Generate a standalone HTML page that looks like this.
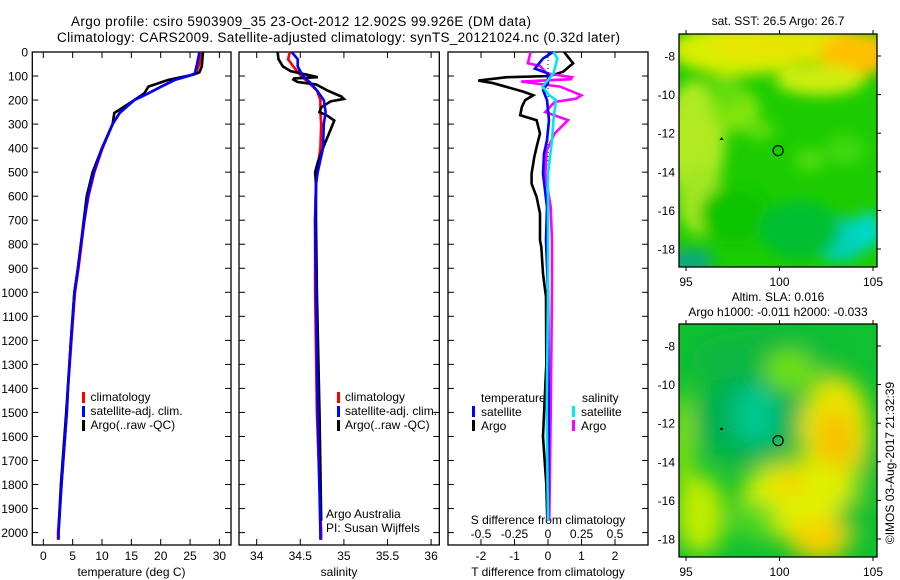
<!DOCTYPE html>
<html><head><meta charset="utf-8"><style>
html,body{margin:0;padding:0;background:#fff;}
svg{display:block;font-family:"Liberation Sans",sans-serif;}
</style></head><body>
<svg id="chart" width="900" height="580" xmlns="http://www.w3.org/2000/svg">
<defs>
<filter id="blur1" x="-50%" y="-50%" width="200%" height="200%"><feGaussianBlur stdDeviation="7"/></filter>
<filter id="blur2" x="-50%" y="-50%" width="200%" height="200%"><feGaussianBlur stdDeviation="11"/></filter>
<clipPath id="m1clip"><rect x="679" y="34" width="198" height="233"/></clipPath>
<clipPath id="m2clip"><rect x="679" y="324" width="198" height="233"/></clipPath>
</defs>
<text x="71" y="26" font-size="13.5" textLength="460">Argo profile: csiro 5903909_35 23-Oct-2012 12.902S 99.926E (DM data)</text>
<text x="57" y="42" font-size="13.5" textLength="563">Climatology: CARS2009. Satellite-adjusted climatology: synTS_20121024.nc (0.32d later)</text>
<g id="g"></g>
</svg>
<script>
// ---- data ----
const tempDepth=[0,50,90,100,116,144,172,200,254,300,400,500,600,700,800,900,1000,1100,1200,1400,1500,1800,2000,2030];
const tempClim=[26.8,26.6,26.0,24.7,22.4,20.1,17.9,15.5,13.0,11.8,10.1,8.7,7.7,7.0,6.5,6.0,5.4,5.1,4.8,4.2,4.0,3.1,2.5,2.5];
const tempSat=[26.6,26.2,25.8,24.7,22.4,20.1,17.9,15.5,13.0,11.8,10.0,8.6,7.6,7.0,6.4,5.9,5.3,5.0,4.7,4.2,4.0,3.1,2.6,2.6];
const argoTDepth=[0,60,85,95,105,116,144,172,200,254,300,400,500,600,700,800,900,1000,1200,1500,1800,1950];
const argoTemp=[27.2,27.0,26.6,25.5,23.5,21.3,17.9,17.2,15.5,12.1,11.8,10.0,8.4,7.4,6.9,6.4,5.9,5.3,4.7,3.9,3.0,2.7];
const salDepth=[0,30,60,100,130,160,200,250,300,400,500,550,700,1000,1500,2000,2030];
const salClim=[34.38,34.36,34.42,34.51,34.60,34.69,34.73,34.73,34.74,34.73,34.69,34.68,34.67,34.67,34.69,34.74,34.74];
const salSat=[34.40,34.47,34.47,34.53,34.62,34.69,34.77,34.79,34.77,34.76,34.70,34.68,34.67,34.68,34.70,34.73,34.73];
const argoSDepth=[0,30,60,80,95,105,110,115,125,135,160,185,195,205,230,250,265,285,330,400,460,500,550,700,1000,1500,1950];
const argoSal=[34.24,34.25,34.30,34.39,34.58,34.70,34.43,34.42,34.47,34.68,34.81,34.97,35.0,34.85,34.74,34.72,34.81,34.89,34.84,34.76,34.70,34.67,34.68,34.68,34.69,34.72,34.74];
const tdArgoDepth=[0,47,82,100,105,119,130,165,180,200,228,263,284,339,395,437,506,548,603,672,783,811,922,1019,1300,1600,1800,1950];
const tDiffArgo=[0.48,0.75,0.45,0.06,-1.23,-2.08,-1.63,-0.74,-0.44,-0.68,-0.78,-0.83,-0.34,-0.24,-0.34,-0.41,-0.49,-0.49,-0.34,-0.24,-0.24,-0.2,-0.15,-0.06,-0.05,-0.15,-0.05,-0.02];
const tdSatDepth=[0,27,69,89,130,158,200,284,367,423,506,645,783,1000,1500,1950];
const tDiffSat=[0.15,-0.15,-0.39,0,0,-0.15,-0.03,0.03,-0.03,-0.12,-0.15,-0.03,-0.06,0,0.02,0];
const sdArgoDepth=[0,47,58,89,105,113,123,133,144,180,194,208,250,256,284,339,409,506,645,783,1000,1500,1950];
const sDiffArgo=[-0.13,-0.15,-0.06,-0.01,0.18,0.17,-0.2,-0.06,0.09,0.25,0.21,0.05,-0.02,0.01,0.15,0.05,-0.01,-0.02,0.02,0.03,0.03,0.02,0.01];
const sdSatDepth=[0,27,89,144,180,200,284,367,506,783,1000,1500,1950];
const sDiffSat=[0.04,0.07,0.04,-0.04,0.01,0.06,0.04,0.03,0,0,0,-0.01,0];
const depthTicks=[0,100,200,300,400,500,600,700,800,900,1000,1100,1200,1300,1400,1500,1600,1700,1800,1900,2000];
const tempTicks=[0,5,10,15,20,25,30];
const salTicks=["34","34.5","35","35.5","36"];
const tdTicks=["-2","-1","0","1","2"];
const sdTicks=["-0.5","-0.25","0","0.25","0.5"];
const lonTicks=[95,100,105];
const lat1Ticks=[-8,-10,-12,-14,-16,-18];
const argoLon=99.926, argoLat=-12.902;

// ---- scales ----
const NS="http://www.w3.org/2000/svg";
const G=document.getElementById('g');
const yD=d=>52+d*0.2403;
const xT=t=>43.3+t*5.87;
const xS=s=>256.7+(s-34)*87.2;
const xTD=v=>548+v*33.5;
const xSD=v=>548+v*134;
const mX=lon=>686+(lon-95)*18.7;
const m1Y=lat=>56+(-8-lat)*19.3;
const m2Y=lat=>346+(-8-lat)*19.3;
function el(tag,attrs,parent){const e=document.createElementNS(NS,tag);for(const k in attrs)e.setAttribute(k,attrs[k]);(parent||G).appendChild(e);return e;}
function txt(x,y,s,size,anchor,name){const t=el('text',{x:x,y:y,'font-size':size,'text-anchor':anchor||'start'});t.textContent=s;


return t;}
function line(xs,ys,fx,color,name){const pts=xs.map((v,i)=>fx(v).toFixed(1)+','+yD(ys[i]).toFixed(1)).join(' ');
const p=el('polyline',{points:pts,fill:'none',stroke:color,'stroke-width':2.6,'stroke-linejoin':'miter'});


return p;}
function panel(x0,x1,name){const r=el('rect',{x:x0,y:52,width:x1-x0,height:493,fill:'none',stroke:'#000','stroke-width':1.3});


depthTicks.forEach(d=>{el('line',{x1:x0,x2:x0+6,y1:yD(d),y2:yD(d),stroke:'#000'});el('line',{x1:x1,x2:x1-6,y1:yD(d),y2:yD(d),stroke:'#000'});});}
function xticks(xs,fx,labels,y){xs.forEach((v,i)=>{const X=fx(v);el('line',{x1:X,x2:X,y1:52,y2:58,stroke:'#000'});el('line',{x1:X,x2:X,y1:545,y2:539,stroke:'#000'});
txt(X,y,labels[i],12,'middle','x-tick-label');});}

// panel 1 temperature
panel(32.3,231,'temperature-panel');
depthTicks.forEach(d=>txt(28,yD(d)+4.5,String(d),12,'end','depth-tick-label'));
xticks(tempTicks,xT,tempTicks.map(String),560);
txt(131.5,576,'temperature (deg C)',12,'middle','temperature-axis-title');
line(tempClim,tempDepth,xT,'#ff0000','temp-climatology-line');
line(argoTemp,argoTDepth,xT,'#000000','temp-argo-line');
line(tempSat,tempDepth,xT,'#0000ff','temp-satellite-line');
[['climatology','#f00'],['satellite-adj. clim.','#00f'],['Argo(..raw -QC)','#000']].forEach((l,i)=>{
 const r=el('rect',{x:82,y:392+i*14,width:3,height:11,fill:l[1]});
 
 
 txt(90.5,401+i*14,l[0],12,'start','legend-entry');});

// panel 2 salinity
panel(239,439.3,'salinity-panel');
xticks([34,34.5,35,35.5,36],xS,salTicks,560);
txt(339,576,'salinity',12,'middle','salinity-axis-title');
line(salClim,salDepth,xS,'#ff0000','sal-climatology-line');
line(argoSal,argoSDepth,xS,'#000000','sal-argo-line');
line(salSat,salDepth,xS,'#0000ff','sal-satellite-line');
[['climatology','#f00'],['satellite-adj. clim.','#00f'],['Argo(..raw -QC)','#000']].forEach((l,i)=>{
 const r=el('rect',{x:337,y:392+i*14,width:3,height:11,fill:l[1]});
 
 
 txt(345,401+i*14,l[0],12,'start','legend-entry');});
txt(326,518,'Argo Australia',12,'start','credit-line-1');
txt(326,532,'PI: Susan Wijffels',12,'start','credit-line-2');

// panel 3 differences
panel(448,648,'difference-panel');
xticks([-2,-1,0,1,2],xTD,tdTicks,560);
[-0.5,-0.25,0,0.25,0.5].forEach((v,i)=>txt(xSD(v),538,sdTicks[i],12,'middle','s-diff-tick-label'));
txt(548,524,'S difference from climatology',12,'middle','s-diff-axis-title');
txt(548,576,'T difference from climatology',12,'middle','t-diff-axis-title');
const zl=el('line',{x1:548,x2:548,y1:52,y2:360,stroke:'#000','stroke-dasharray':'1,3'});


line(tDiffArgo,tdArgoDepth,xTD,'#000000','t-diff-argo-line');
line(sDiffArgo,sdArgoDepth,xSD,'#ff00ff','s-diff-argo-line');
line(tDiffSat,tdSatDepth,xTD,'#0000ff','t-diff-satellite-line');
line(sDiffSat,sdSatDepth,xSD,'#00e5ee','s-diff-satellite-line');
txt(481,402,'temperature',12,'start','legend-title-temperature');
txt(582,402,'salinity',12,'start','legend-title-salinity');
[['satellite','#00f',472,489],['Argo','#000',472,489],['satellite','#0ee',572,589],['Argo','#f0f',572,589]].forEach((l,i)=>{
 const row=i%2;
 const r=el('rect',{x:l[2],y:406+row*14,width:3,height:11,fill:l[1]});
 
 
 txt(l[3]-8,416+row*14,l[0],12,'start','legend-entry');});

// maps
function mapFrame(y0,fy,name){
 const r=el('rect',{x:679,y:y0,width:198,height:233,fill:'none',stroke:'#000','stroke-width':1.3});
 
 
 lonTicks.forEach(l=>{const X=mX(l);el('line',{x1:X,x2:X,y1:y0,y2:y0-4,stroke:'#000'});el('line',{x1:X,x2:X,y1:y0+233,y2:y0+237,stroke:'#000'});
  txt(X,y0+252,String(l),12,'middle','map-lon-label');});
 lat1Ticks.forEach(l=>{const Y=fy(l);el('line',{x1:877,x2:881,y1:Y,y2:Y,stroke:'#000'});
  txt(675,Y+4.5,String(l),12,'end','map-lat-label');});
 const c=el('circle',{cx:mX(argoLon),cy:fy(argoLat),r:5,fill:'none',stroke:'#000','stroke-width':1.2});
 
 
 el('path',{d:`M${mX(96.9)-2},${fy(-12.25)+2} l2,-3 l2,3z`,fill:'#000'});
}
// map 1 (SST)
const m1=el('g',{'clip-path':'url(#m1clip)'});


el('rect',{x:679,y:34,width:198,height:233,fill:'#1ccc00'},m1);
const b1=el('g',{filter:'url(#blur1)'},m1);
[[740,50,70,25,'#d8ee00'],[800,45,90,18,'#e8e600'],[855,55,35,22,'#ffc000'],[820,80,45,15,'#d0ee10'],
 [695,140,30,60,'#b0ea20'],[700,200,22,35,'#a0e620'],[735,110,25,22,'#80e410'],[725,90,20,15,'#60dc10'],
 [760,130,15,10,'#60dc10'],[810,160,15,12,'#50dc10'],[845,150,20,15,'#40d810'],
 [735,215,35,30,'#10c400'],[840,240,28,22,'#00d0b8'],[868,230,14,18,'#00d8cc'],[690,262,24,14,'#10a880'],[800,230,40,30,'#00c030']].forEach(e=>el('ellipse',{cx:e[0],cy:e[1],rx:e[2],ry:e[3],fill:e[4]},b1));
txt(778,25,'sat. SST: 26.5 Argo: 26.7',12,'middle','sst-map-title');
mapFrame(34,m1Y,'sst-map-frame');
// map 2 (SLA)
const m2=el('g',{'clip-path':'url(#m2clip)'});


el('rect',{x:679,y:324,width:198,height:233,fill:'#10c030'},m2);
const b2=el('g',{filter:'url(#blur2)'},m2);
[[760,360,70,30,'#08b840'],[750,420,55,45,'#00b050'],[755,415,22,30,'#00c890'],[790,370,25,20,'#70e010'],
 [835,430,35,55,'#e8e400'],[835,440,18,30,'#f8c000'],[800,500,60,40,'#e0f000'],[790,480,15,18,'#f0d800'],
 [700,515,25,40,'#c0ec00'],[683,450,8,60,'#b0ea00'],[820,540,30,20,'#f8d000'],[755,520,22,20,'#50d820'],
 [855,515,18,18,'#10c030'],[872,465,12,25,'#10c030']].forEach(e=>el('ellipse',{cx:e[0],cy:e[1],rx:e[2],ry:e[3],fill:e[4]},b2));
txt(778,301,'Altim. SLA: 0.016',12,'middle','sla-map-title');
txt(778,316,'Argo h1000: -0.011 h2000: -0.033',12,'middle','sla-map-subtitle');
mapFrame(324,m2Y,'sla-map-frame');
const ts=txt(0,0,'©IMOS 03-Aug-2017 21:32:39',12,'middle','timestamp');
ts.setAttribute('transform','translate(894,463) rotate(-90)');
</script>
</body></html>
